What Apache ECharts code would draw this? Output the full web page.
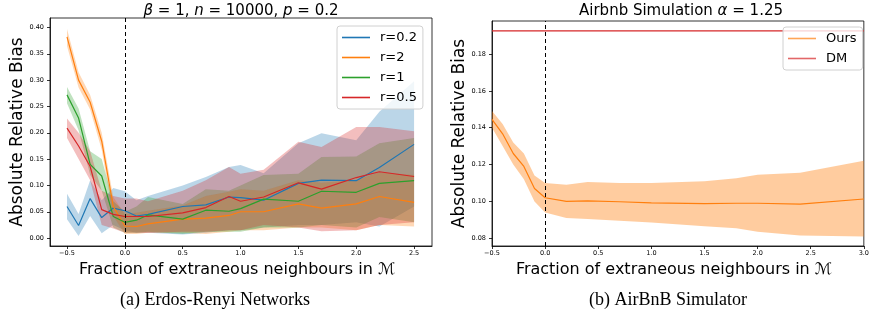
<!DOCTYPE html>
<html>
<head>
<meta charset="utf-8">
<script src="https://cdn.jsdelivr.net/npm/echarts@6/dist/echarts.min.js"></script>
<style>
html, body { margin: 0; padding: 0; background: #fff; }
#chart { width: 872px; height: 320px; }
</style>
</head>
<body>
<div id="chart"></div>
<script>
// (a) Erdos-Renyi: fraction of extraneous neighbours
var erX = [-0.5, -0.4, -0.3, -0.2, -0.1, 0.0, 0.1, 0.2, 0.5, 0.7, 0.9, 1.0, 1.2, 1.5, 1.7, 2.0, 2.2, 2.5];

var r02Mean = [0.060, 0.024, 0.075, 0.039, 0.057, 0.052, 0.042, 0.045, 0.060, 0.063, 0.078, 0.077, 0.072, 0.104, 0.110, 0.109, 0.134, 0.178];
var r02Hi   = [0.084, 0.046, 0.110, 0.072, 0.095, 0.089, 0.072, 0.080, 0.100, 0.116, 0.135, 0.139, 0.123, 0.180, 0.199, 0.186, 0.240, 0.298];
var r02Lo   = [0.036, 0.004, 0.042, 0.009, 0.025, 0.015, 0.010, 0.010, 0.007, 0.010, 0.015, 0.015, 0.020, 0.025, 0.025, 0.030, 0.022, 0.060];

var r2Mean = [0.382, 0.300, 0.258, 0.184, 0.060, 0.023, 0.022, 0.027, 0.036, 0.038, 0.043, 0.050, 0.050, 0.065, 0.057, 0.065, 0.079, 0.068];
var r2Hi   = [0.397, 0.315, 0.272, 0.200, 0.078, 0.045, 0.048, 0.052, 0.062, 0.080, 0.088, 0.093, 0.090, 0.110, 0.105, 0.110, 0.125, 0.120];
var r2Lo   = [0.365, 0.286, 0.244, 0.168, 0.042, 0.008, 0.008, 0.010, 0.010, 0.008, 0.012, 0.015, 0.015, 0.020, 0.020, 0.015, 0.025, 0.022];

var r1Mean = [0.272, 0.228, 0.140, 0.118, 0.041, 0.030, 0.034, 0.044, 0.036, 0.053, 0.051, 0.056, 0.074, 0.070, 0.089, 0.087, 0.104, 0.109];
var r1Hi   = [0.287, 0.246, 0.165, 0.150, 0.070, 0.050, 0.060, 0.078, 0.065, 0.093, 0.090, 0.100, 0.120, 0.122, 0.154, 0.155, 0.180, 0.190];
var r1Lo   = [0.256, 0.205, 0.120, 0.090, 0.020, 0.010, 0.010, 0.012, 0.008, 0.012, 0.012, 0.012, 0.020, 0.020, 0.025, 0.020, 0.040, 0.030];

var r05Mean = [0.209, 0.175, 0.136, 0.054, 0.045, 0.041, 0.041, 0.041, 0.048, 0.058, 0.079, 0.070, 0.078, 0.105, 0.093, 0.115, 0.126, 0.117];
var r05Hi   = [0.227, 0.200, 0.165, 0.090, 0.080, 0.075, 0.075, 0.070, 0.090, 0.110, 0.135, 0.122, 0.130, 0.183, 0.173, 0.211, 0.211, 0.203];
var r05Lo   = [0.190, 0.150, 0.110, 0.025, 0.018, 0.010, 0.010, 0.010, 0.012, 0.012, 0.015, 0.015, 0.025, 0.020, 0.013, 0.015, 0.025, 0.030];

// (b) AirBnB simulator
var abX     = [-0.5, -0.4, -0.3, -0.2, -0.1, 0.0, 0.2, 0.4, 0.7, 1.0, 1.5, 1.8, 2.0, 2.4, 3.0];
var oursMean = [0.1445, 0.1367, 0.1260, 0.1190, 0.1070, 0.1020, 0.1000, 0.1003, 0.0998, 0.0992, 0.0988, 0.0990, 0.0990, 0.0985, 0.1013];
var oursHi   = [0.1490, 0.1420, 0.1320, 0.1260, 0.1140, 0.1100, 0.1090, 0.1105, 0.1100, 0.1100, 0.1110, 0.1125, 0.1145, 0.1155, 0.1220];
var oursLo   = [0.1400, 0.1300, 0.1200, 0.1120, 0.1000, 0.0940, 0.0910, 0.0905, 0.0895, 0.0885, 0.0865, 0.0855, 0.0835, 0.0815, 0.0810];
var dmBias = 0.1925;

// tick labels
var erXTicks = [-0.5, 0.0, 0.5, 1.0, 1.5, 2.0, 2.5];
var erYTicks = [0.00, 0.05, 0.10, 0.15, 0.20, 0.25, 0.30, 0.35, 0.40];
var abXTicks = [-0.5, 0.0, 0.5, 1.0, 1.5, 2.0, 2.5, 3.0];
var abYTicks = [0.08, 0.10, 0.12, 0.14, 0.16, 0.18];

var FONT = 'DejaVu Sans';
var C = { blue: '#1f77b4', orange: '#ff7f0e', green: '#2ca02c', red: '#d62728' };

function pairs(xs, ys) {
    var out = [];
    for (var i = 0; i < xs.length; ++i) {
        out.push([xs[i], ys[i]]);
    }
    return out;
}

function fmt(d) {
    return function (v) {
        return (v < 0 ? '\u2212' : '') + Math.abs(v).toFixed(d);
    };
}

function band(idx, xs, lo, hi, fill) {
    return {
        type: 'custom',
        xAxisIndex: idx,
        yAxisIndex: idx,
        silent: true,
        z: 1,
        data: [[xs[0], lo[0]]],
        renderItem: function (params, api) {
            var pts = [];
            for (var i = 0; i < xs.length; ++i) {
                pts.push(api.coord([xs[i], hi[i]]));
            }
            for (var j = xs.length - 1; j >= 0; --j) {
                pts.push(api.coord([xs[j], lo[j]]));
            }
            return { type: 'polygon', shape: { points: pts }, style: { fill: fill } };
        }
    };
}

function line(idx, name, xs, ys, color) {
    return {
        type: 'line',
        name: name,
        xAxisIndex: idx,
        yAxisIndex: idx,
        data: pairs(xs, ys),
        showSymbol: false,
        symbol: 'none',
        z: 3,
        lineStyle: { color: color, width: 1.2 },
        itemStyle: { color: color }
    };
}

function vline(idx) {
    return {
        type: 'line',
        xAxisIndex: idx,
        yAxisIndex: idx,
        data: [],
        z: 4,
        markLine: {
            silent: true,
            symbol: 'none',
            label: { show: false },
            lineStyle: { color: '#000', type: [4, 3], width: 1 },
            data: [{ xAxis: 0 }]
        }
    };
}

function xAxis(idx, min, max, ticks) {
    return {
        gridIndex: idx,
        type: 'value',
        min: min,
        max: max,
        splitLine: { show: false },
        axisLine: { show: true, onZero: false, lineStyle: { color: '#000', width: 0.8 } },
        axisTick: { show: true, length: 3, customValues: ticks, lineStyle: { color: '#000', width: 0.8 } },
        axisLabel: { customValues: ticks, formatter: fmt(1), fontSize: 6.5, color: '#000', fontFamily: FONT, margin: 4 },
        name: 'Fraction of extraneous neighbours in \u2133',
        nameLocation: 'middle',
        nameGap: 13,
        nameTextStyle: { fontSize: 16, color: '#000', fontFamily: FONT, padding: [0, 8, 0, 0] }
    };
}

function yAxis(idx, min, max, ticks) {
    return {
        gridIndex: idx,
        type: 'value',
        min: min,
        max: max,
        splitLine: { show: false },
        axisLine: { show: true, onZero: false, lineStyle: { color: '#000', width: 0.8 } },
        axisTick: { show: true, length: 3, customValues: ticks, lineStyle: { color: '#000', width: 0.8 } },
        axisLabel: { customValues: ticks, formatter: fmt(2), fontSize: 6.5, color: '#000', fontFamily: FONT, margin: 6 },
        name: 'Absolute Relative Bias',
        nameLocation: 'middle',
        nameGap: 21,
        nameTextStyle: { fontSize: 17, color: '#000', fontFamily: FONT }
    };
}

function legend(left, top, names) {
    return {
        orient: 'vertical',
        left: left,
        top: top,
        icon: 'rect',
        itemWidth: 28,
        itemHeight: 1.6,
        itemGap: 7,
        padding: [5, 6, 5, 5],
        backgroundColor: 'rgba(255,255,255,0.8)',
        borderColor: '#d0d0d0',
        borderWidth: 1,
        borderRadius: 3,
        textStyle: { fontSize: 13, color: '#000', fontFamily: FONT, padding: [0, 0, 0, 5] },
        data: names
    };
}

var chart = echarts.init(document.getElementById('chart'));
chart.setOption({
    animation: false,
    grid: [
        { left: 50, top: 18, width: 382, height: 228, show: true, borderColor: '#000', borderWidth: 0.8 },
        { left: 492, top: 21, width: 379, height: 225, show: true, borderColor: '#000', borderWidth: 0.8 }
    ],
    xAxis: [xAxis(0, -0.647, 2.655, erXTicks), xAxis(1, -0.5, 3.0, abXTicks)],
    yAxis: [yAxis(0, -0.015, 0.418, erYTicks), yAxis(1, 0.0758, 0.1979, abYTicks)],
    legend: [
        legend(337, 26, ['r=0.2', 'r=2', 'r=1', 'r=0.5']),
        legend(783, 27, [{ name: 'Ours', itemStyle: { opacity: 0.7 } }, { name: 'DM', itemStyle: { opacity: 0.7 } }])
    ],
    series: [
        band(0, erX, r02Lo, r02Hi, 'rgba(31,119,180,0.3)'),
        band(0, erX, r2Lo, r2Hi, 'rgba(255,127,14,0.3)'),
        band(0, erX, r1Lo, r1Hi, 'rgba(44,160,44,0.3)'),
        band(0, erX, r05Lo, r05Hi, 'rgba(214,39,40,0.3)'),
        line(0, 'r=0.2', erX, r02Mean, C.blue),
        line(0, 'r=2', erX, r2Mean, C.orange),
        line(0, 'r=1', erX, r1Mean, C.green),
        line(0, 'r=0.5', erX, r05Mean, C.red),
        vline(0),
        band(1, abX, oursLo, oursHi, 'rgba(255,127,14,0.4)'),
        line(1, 'Ours', abX, oursMean, C.orange),
        line(1, 'DM', [-0.5, 3.0], [dmBias, dmBias], C.red),
        vline(1)
    ],
    graphic: [
        {
            type: 'text', x: 241, y: 11,
            style: {
                text: '{i|\u03b2} = 1, {i|n} = 10000, {i|p} = 0.2',
                rich: { i: { fontStyle: 'italic', fontSize: 15, fontFamily: FONT } },
                fontSize: 15, fontFamily: FONT, fill: '#000',
                textAlign: 'center', textVerticalAlign: 'middle'
            }
        },
        {
            type: 'text', x: 681, y: 11,
            style: {
                text: 'Airbnb Simulation {i|\u03b1} = 1.25',
                rich: { i: { fontStyle: 'italic', fontSize: 15, fontFamily: FONT } },
                fontSize: 15, fontFamily: FONT, fill: '#000',
                textAlign: 'center', textVerticalAlign: 'middle'
            }
        },
        {
            type: 'text', x: 215, y: 300,
            style: {
                text: '(a) Erdos-Renyi Networks', fontSize: 18, fontFamily: 'Liberation Serif',
                fill: '#000', textAlign: 'center', textVerticalAlign: 'middle'
            }
        },
        {
            type: 'text', x: 668, y: 300,
            style: {
                text: '(b) AirBnB Simulator', fontSize: 18, fontFamily: 'Liberation Serif',
                fill: '#000', textAlign: 'center', textVerticalAlign: 'middle'
            }
        }
    ]
});
</script>
</body>
</html>
